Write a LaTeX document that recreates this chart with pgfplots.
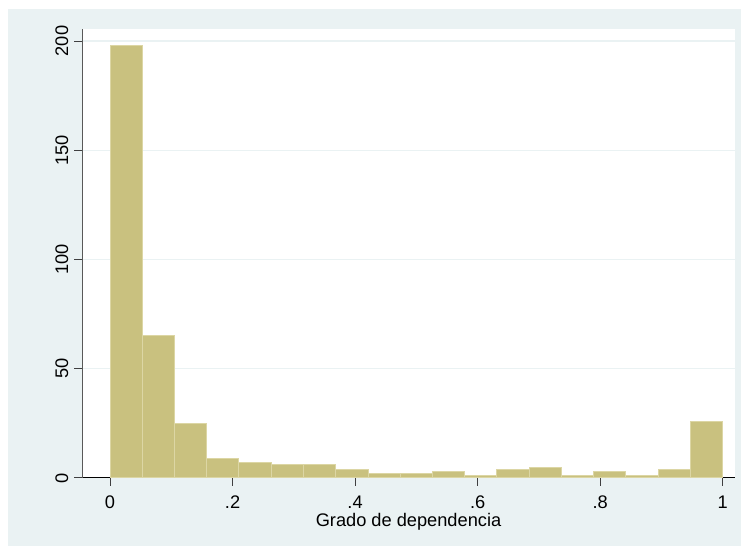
\documentclass[border=0pt]{standalone}
\usepackage{pgfplots}
\pgfplotsset{compat=1.18}
\usepackage{fontspec}
\setmainfont{Liberation Sans}
\definecolor{stbg}{RGB}{234,242,243}
\definecolor{barfill}{RGB}{201,193,127}
\definecolor{baredge}{RGB}{220,214,164}
\begin{document}
\begin{tikzpicture}[x=1bp,y=1bp]
\fill[white] (0,0) rectangle (741,548);
\fill[stbg] (8,2) rectangle (741,539);
\begin{axis}[
  at={(82bp,70bp)}, anchor=south west,
  scale only axis, width=653bp, height=449bp,
  xmin=-0.0457, xmax=1.0201, ymin=0, ymax=205.5,
  axis x line=bottom, axis y line=left,
  axis line style={-, line width=1bp},
  x axis line style={black},
  y axis line style={black!65},
  axis background/.style={fill=white},
  tick align=outside,
  major tick length=8bp,
  tick style={line width=1bp, black!75},
  xtick={0,0.2,0.4,0.6,0.8,1},
  xticklabels={0,.2,.4,.6,.8,1},
  ytick={0,50,100,150,200},
  yticklabels={0,50,100,150,200},
  ymajorgrids,
  major grid style={stbg, line width=1.3bp},
  ticklabel style={font=\fontsize{18.3}{20}\selectfont},
  xticklabel style={anchor=base, inner sep=0pt, yshift=-23bp},
  yticklabel style={rotate=90, anchor=base, inner sep=0pt, yshift=6bp},
  xlabel={Grado de dependencia},
  xlabel style={at={(axis description cs:0.5,0)}, anchor=base, inner sep=0pt, yshift=-48.7bp, font=\fontsize{18.3}{20}\selectfont},
  clip=false,
]
\addplot[ybar interval, fill=barfill, draw=baredge, line width=1bp] coordinates {
(0.0000,198) (0.0526,65) (0.1053,25) (0.1579,9) (0.2105,7) (0.2632,6)
(0.3158,6) (0.3684,4) (0.4211,2) (0.4737,2) (0.5263,3) (0.5789,1)
(0.6316,4) (0.6842,5) (0.7368,1) (0.7895,3) (0.8421,1) (0.8947,4)
(0.9474,26) (1.0000,26)};
\end{axis}
\end{tikzpicture}
\end{document}
